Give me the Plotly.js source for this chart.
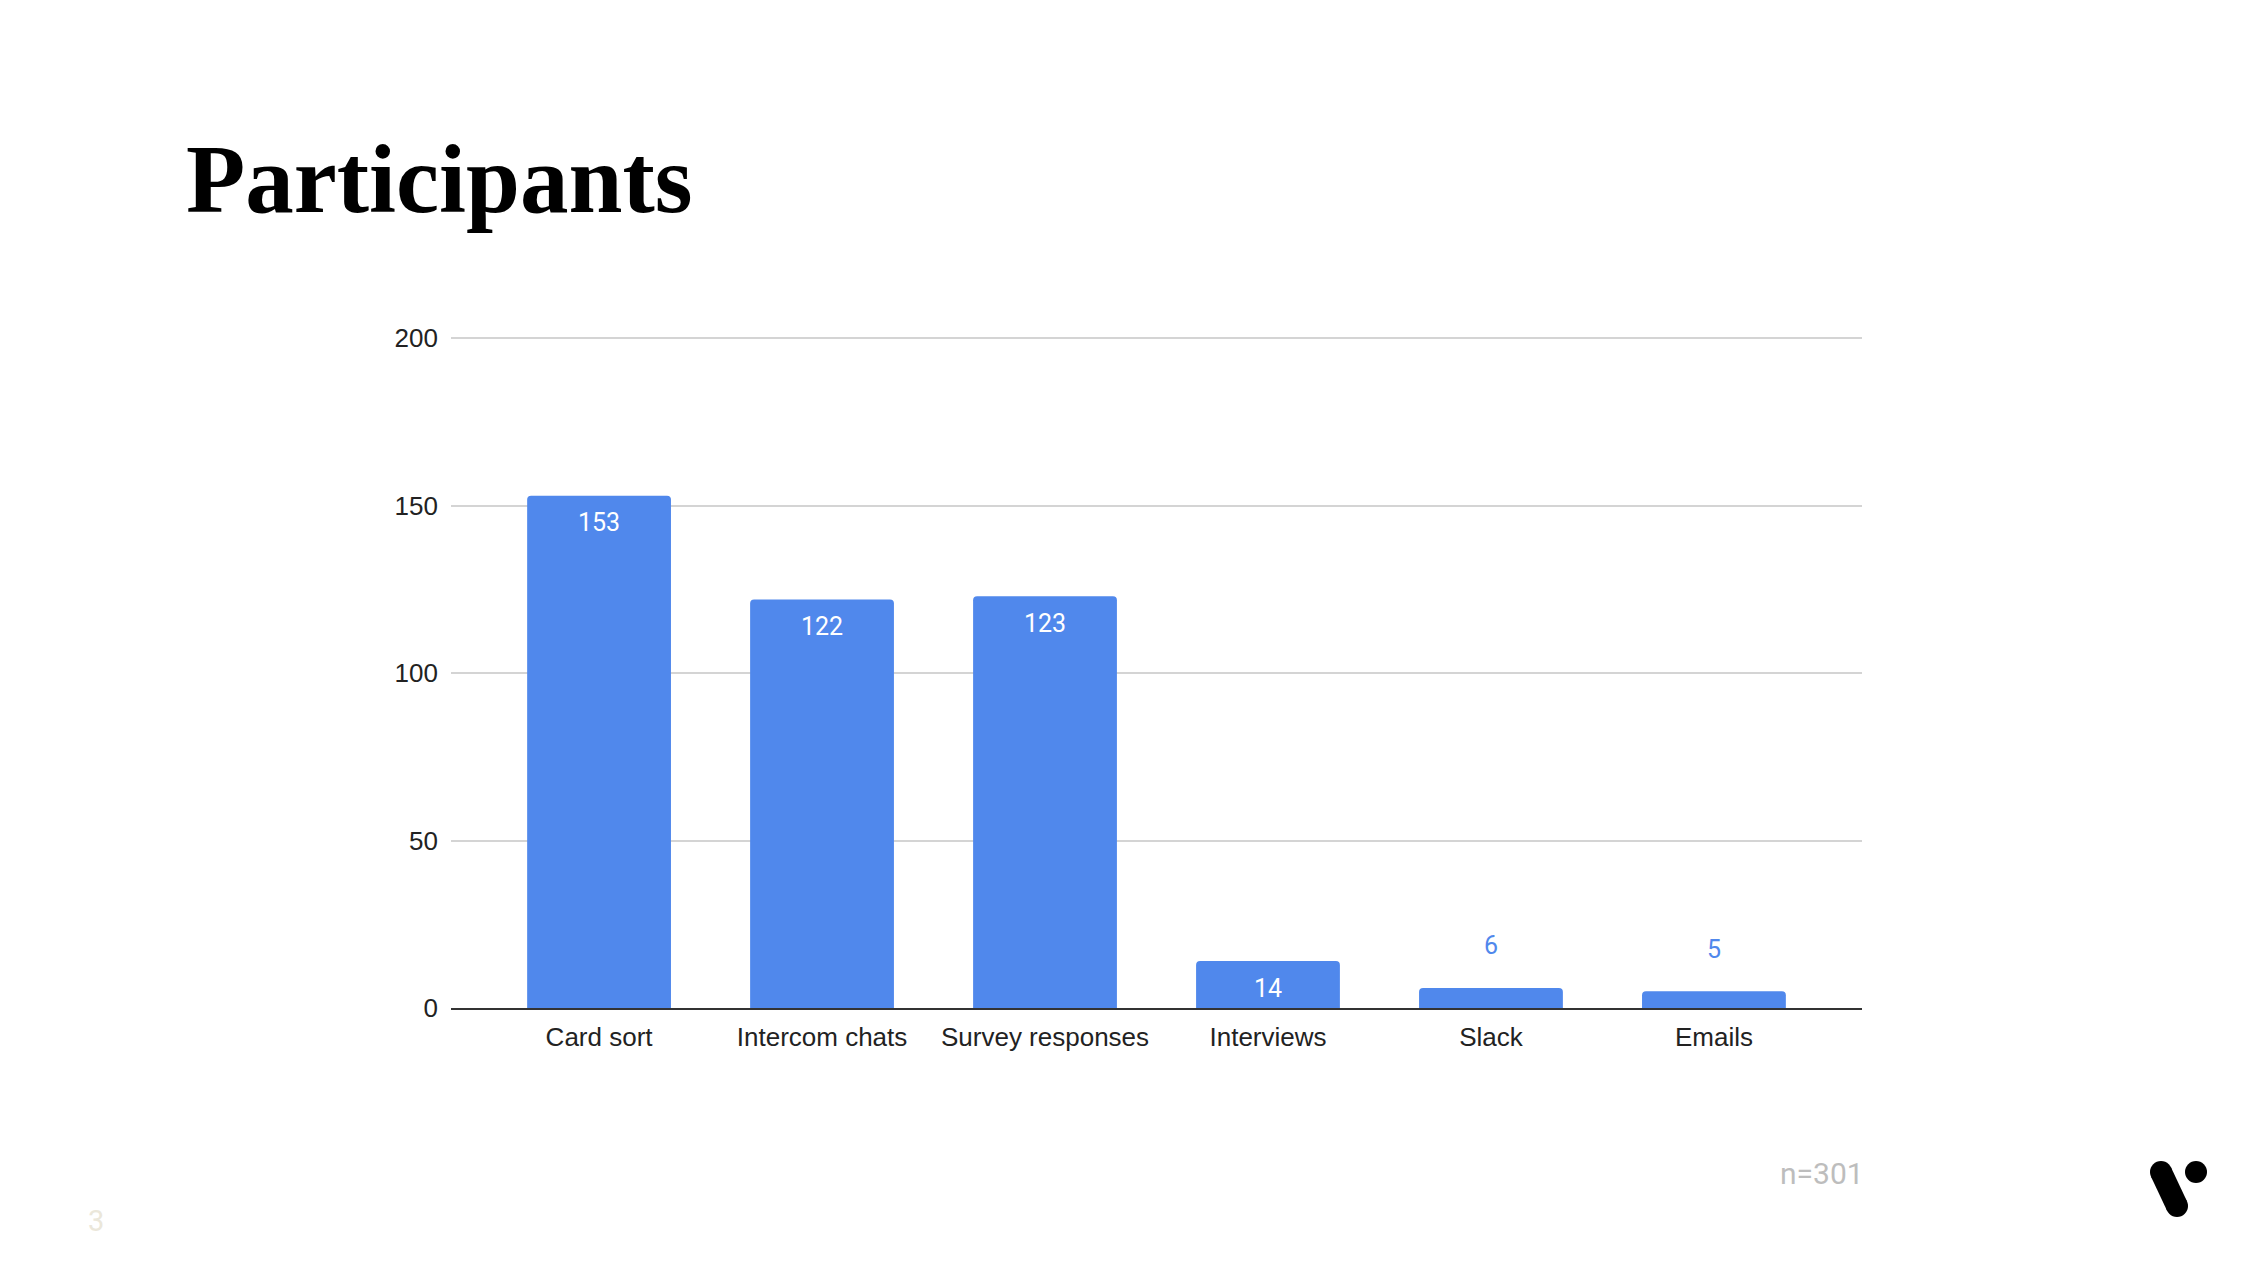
<!DOCTYPE html>
<html>
<head>
<meta charset="utf-8">
<script src="https://cdn.plot.ly/plotly-3.0.1.min.js"></script>
<style>
  html, body { margin: 0; padding: 0; background: #ffffff; }
  #chart { width: 2258px; height: 1264px; }
</style>
</head>
<body>
<div id="chart"></div>
<script>
// ---- data ----
const categories = ["Card sort", "Intercom chats", "Survey responses", "Interviews", "Slack", "Emails"];
const participants = [153, 122, 123, 14, 6, 5];
const yTickValues = [0, 50, 100, 150, 200];
const yTickLabels = ["0", "50", "100", "150", "200"];
const titleText = "Participants";
const noteText = "n=301";
const pageNumber = "3";

// ---- layout geometry ----
const W = 2258, H = 1264;
const M = { l: 451, r: 396, t: 335, b: 256 };
const PW = W - M.l - M.r, PH = H - M.t - M.b;
const px = x => (x - M.l) / PW;
const py = y => (H - M.b - y) / PH;

const BAR_COLOR = "#5088ec";

const trace = {
  type: "bar",
  x: categories,
  y: participants,
  width: 0.645,
  marker: { color: BAR_COLOR, cornerradius: 4 },
  hoverinfo: "x+y"
};

// value labels: inside near top for tall bars, above bar for short ones
const labelAnnotations = participants.map((v, i) => {
  const inside = v > 10;
  return {
    xref: "x", yref: "y",
    x: categories[i], y: v,
    text: String(v),
    showarrow: false,
    xanchor: "center", yanchor: "middle",
    yshift: inside ? -27 : 42,
    font: { family: "Roboto, 'Liberation Sans', Arial, sans-serif", size: 25, color: inside ? "#ffffff" : BAR_COLOR }
  };
});

const annotations = labelAnnotations.concat([
  {
    xref: "paper", yref: "paper",
    x: px(184), y: py(180),
    xanchor: "left", yanchor: "middle",
    text: "<b>" + titleText + "</b>",
    showarrow: false,
    font: { family: "'Liberation Serif', 'DejaVu Serif', serif", size: 97, color: "#000000" }
  },
  {
    xref: "paper", yref: "paper",
    x: px(1866), y: py(1173),
    xanchor: "right", yanchor: "middle",
    text: noteText,
    showarrow: false,
    font: { family: "Roboto, sans-serif", size: 30, color: "#bdbdbd" }
  },
  {
    xref: "paper", yref: "paper",
    x: px(96), y: py(1221),
    xanchor: "center", yanchor: "middle",
    text: pageNumber,
    showarrow: false,
    font: { family: "Roboto, sans-serif", size: 29, color: "#ebe7da" }
  }
]);

// logo (decoration): a thick rounded stroke and a dot
const logoA = [2161, 1172], logoB = [2177, 1206], capR = 11;
const dot = [2196, 1172], dotR = 11;
const shapes = [
  {
    type: "line", xref: "paper", yref: "paper",
    x0: px(logoA[0]), y0: py(logoA[1]), x1: px(logoB[0]), y1: py(logoB[1]),
    line: { color: "#000000", width: 22 }
  },
  {
    type: "circle", xref: "paper", yref: "paper",
    x0: px(logoA[0] - capR), x1: px(logoA[0] + capR), y0: py(logoA[1] - capR), y1: py(logoA[1] + capR),
    fillcolor: "#000000", line: { width: 0 }
  },
  {
    type: "circle", xref: "paper", yref: "paper",
    x0: px(logoB[0] - capR), x1: px(logoB[0] + capR), y0: py(logoB[1] - capR), y1: py(logoB[1] + capR),
    fillcolor: "#000000", line: { width: 0 }
  },
  {
    type: "circle", xref: "paper", yref: "paper",
    x0: px(dot[0] - dotR), x1: px(dot[0] + dotR), y0: py(dot[1] - dotR), y1: py(dot[1] + dotR),
    fillcolor: "#000000", line: { width: 0 }
  }
];

const layout = {
  width: W, height: H,
  margin: M,
  paper_bgcolor: "#ffffff",
  plot_bgcolor: "#ffffff",
  showlegend: false,
  xaxis: {
    type: "category",
    range: [-0.664, categories.length - 1 + 0.664],
    showgrid: false,
    showline: true,
    linecolor: "#333333",
    linewidth: 2,
    ticks: "",
    tickfont: { family: "'Liberation Sans', Arial, sans-serif", size: 26, color: "#222222" },
    ticklabelstandoff: 5,
    fixedrange: true
  },
  yaxis: {
    range: [0, 201],
    tickvals: yTickValues,
    ticktext: yTickLabels,
    showgrid: true,
    gridcolor: "#d4d4d4",
    gridwidth: 2,
    zeroline: false,
    showline: false,
    ticks: "",
    tickfont: { family: "'Liberation Sans', Arial, sans-serif", size: 26, color: "#222222" },
    ticklabelstandoff: 12,
    fixedrange: true
  },
  annotations: annotations,
  shapes: shapes
};

Plotly.newPlot("chart", [trace], layout, { displayModeBar: false, staticPlot: true });
</script>
</body>
</html>
